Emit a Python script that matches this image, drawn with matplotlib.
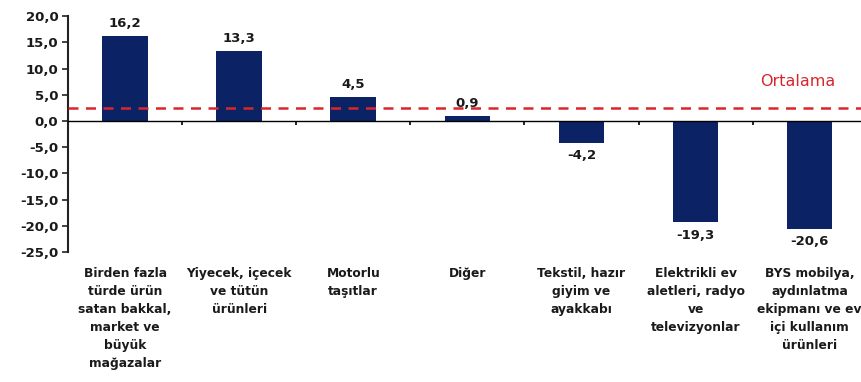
import matplotlib
matplotlib.use("Agg")
import matplotlib.pyplot as plt
import matplotlib.transforms as mtransforms

categories = [
    "Birden fazla\ntürde ürün\nsatan bakkal,\nmarket ve\nbüyük\nmağazalar",
    "Yiyecek, içecek\nve tütün\nürünleri",
    "Motorlu\ntaşıtlar",
    "Diğer",
    "Tekstil, hazır\ngiyim ve\nayakkabı",
    "Elektrikli ev\naletleri, radyo\nve\ntelevizyonlar",
    "BYS mobilya,\naydınlatma\nekipmanı ve ev\niçi kullanım\nürünleri",
]
values = [16.2, 13.3, 4.5, 0.9, -4.2, -19.3, -20.6]
value_labels = ["16,2", "13,3", "4,5", "0,9", "-4,2", "-19,3", "-20,6"]
average = 2.5
yticks = [20, 15, 10, 5, 0, -5, -10, -15, -20, -25]
ytick_labels = ["20,0", "15,0", "10,0", "5,0", "0,0", "-5,0", "-10,0", "-15,0", "-20,0", "-25,0"]

plt.rcParams['font.family'] = ['DejaVu Sans']

fig = plt.figure(figsize=(8.61, 3.82), dpi=100)
ax = fig.add_axes([0.079, 0.340, 0.921, 0.618])

bar_color = "#0b2265"
x = list(range(len(values)))
ax.bar(x, values, width=0.4, color=bar_color, zorder=2)

ax.set_xlim(-0.5, 6.45)
ax.set_ylim(-25, 20)
ax.set_yticks(yticks)
ax.set_yticklabels(ytick_labels, fontsize=9.5, fontweight='bold', color='#1a1a1a')

for s in ['top', 'right']:
    ax.spines[s].set_visible(False)
ax.spines['bottom'].set_position(('data', 0))
ax.spines['bottom'].set_color('black')
ax.spines['bottom'].set_linewidth(1.0)
ax.spines['left'].set_linewidth(1.5)
ax.spines['left'].set_color('#222222')

ax.set_xticks([i + 0.5 for i in range(len(values) - 1)])
ax.set_xticklabels([])
ax.tick_params(axis='x', length=3, width=1.2, direction='out', color='black')
ax.tick_params(axis='y', length=4, width=1.2, direction='out', color='#222222', pad=3)

ax.axhline(average, color='#d9262c', linestyle=(0, (4, 3)), linewidth=1.8, zorder=3)
ax.text(5.9, average + 5.0, "Ortalama", color='#d9262c', fontsize=11.5,
        ha='center', va='center')

for xi, v, lab in zip(x, values, value_labels):
    if v >= 0:
        ax.text(xi, v + 1.2, lab, ha='center', va='bottom', fontsize=9.5,
                fontweight='bold', color='#1a1a1a')
    else:
        ax.text(xi, v - 1.2, lab, ha='center', va='top', fontsize=9.5,
                fontweight='bold', color='#1a1a1a')

trans = mtransforms.blended_transform_factory(ax.transData, ax.transAxes)
for xi, c in zip(x, categories):
    ax.text(xi, -0.062, c, transform=trans, ha='center', va='top',
            fontsize=8.8, fontweight='bold', color='#1a1a1a', linespacing=1.5,
            clip_on=False)

fig.savefig("out.png", dpi=100)
